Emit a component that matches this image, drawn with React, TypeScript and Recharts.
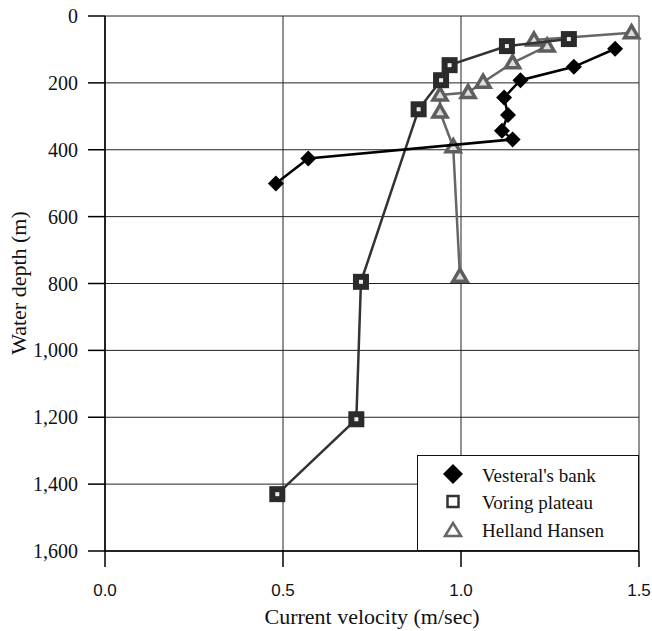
import React from 'react';
import { ScatterChart, Scatter, XAxis, YAxis, CartesianGrid, Legend } from 'recharts';

// velocity (m/sec) and depth (m), ordered by depth
const vesteralVelocity = [1.433, 1.317, 1.167, 1.121, 1.132, 1.115, 1.145, 0.571, 0.48];
const vesteralDepth = [98, 152, 192, 244, 296, 343, 369, 426, 501];

const voringVelocity = [1.303, 1.129, 0.968, 0.944, 0.881, 0.719, 0.706, 0.484];
const voringDepth = [69, 90, 147, 192, 279, 795, 1206, 1430];

const hellandVelocity = [1.479, 1.205, 1.242, 1.145, 1.062, 1.02, 0.941, 0.941, 0.978, 0.997];
const hellandDepth = [50, 72, 90, 140, 198, 229, 236, 287, 391, 778];

const velocityTicks = [0, 0.5, 1, 1.5];
const depthTicks = [0, 200, 400, 600, 800, 1000, 1200, 1400, 1600];

const seriesNames = ["Vesteral's bank", 'Voring plateau', 'Helland Hansen'];

const SERIF = '"Liberation Serif", "Times New Roman", serif';
const SANS = '"Liberation Sans", Arial, sans-serif';

const toPoints = (v: number[], d: number[]) => v.map((x, i) => ({ v: x, d: d[i] }));

const vesteralData = toPoints(vesteralVelocity, vesteralDepth);
const voringData = toPoints(voringVelocity, voringDepth);
const hellandData = toPoints(hellandVelocity, hellandDepth);

const Diamond = ({ cx, cy, r = 8 }: any) => (
  <path d={`M${cx},${cy - r}L${cx + r},${cy}L${cx},${cy + r}L${cx - r},${cy}Z`} fill="#000" />
);

// dark square with only a small light centre, as in the source figure
const Square = ({ cx, cy }: any) => (
  <rect x={cx - 5} y={cy - 5} width={10} height={10} fill="#eee" stroke="#2b2b2b" strokeWidth={6} />
);

const Triangle = ({ cx, cy }: any) => (
  <polygon
    points={`${cx},${cy - 7} ${cx + 7},${cy + 5} ${cx - 7},${cy + 5}`}
    fill="#ddd"
    stroke="#5e5e5e"
    strokeWidth={3.5}
  />
);

const XTick = ({ x, y, payload }: any) => (
  <text x={x} y={y + 21} textAnchor="middle" dominantBaseline="central" fontFamily={SANS} fontSize={17} fill="#111">
    {Number(payload.value).toFixed(1)}
  </text>
);

const YTick = ({ x, y, payload }: any) => (
  <text x={x - 8} y={y} textAnchor="end" dominantBaseline="central" fontFamily={SERIF} fontSize={20} fill="#111">
    {Number(payload.value).toLocaleString('en-US')}
  </text>
);

const renderLegend = () => (
  <div style={{ width: 222, height: 96, background: '#fff', border: '1px solid #111', boxSizing: 'border-box' }}>
    <svg width={220} height={94}>
      <path d="M35,8L45,18L35,28L25,18Z" fill="#000" />
      <rect x={29.5} y={40} width={11} height={11} fill="#fff" stroke="#333" strokeWidth={2.5} />
      <polygon points="35,67 43,80 27,80" fill="#fff" stroke="#666" strokeWidth={2.5} />
      {seriesNames.map((name, i) => (
        <text key={name} x={64} y={[26, 52.5, 80.5][i]} fontFamily={SERIF} fontSize={19} fill="#111">
          {name}
        </text>
      ))}
    </svg>
  </div>
);

export default function App() {
  return (
    <div style={{ position: 'absolute', left: 0, top: 0, background: '#fff' }}>
      <ScatterChart width={652} height={631} margin={{ top: 16, right: 13, left: 0, bottom: 0 }}>
        <CartesianGrid stroke="#222" strokeWidth={1} />
        <XAxis
          type="number"
          dataKey="v"
          domain={[0, 1.5]}
          ticks={velocityTicks}
          height={80}
          tickSize={16}
          axisLine={{ stroke: '#000', strokeWidth: 1.5 }}
          tickLine={{ stroke: '#000', strokeWidth: 1.5 }}
          tick={<XTick />}
          label={{
            content: ({ viewBox }: any) => (
              <text
                x={viewBox ? viewBox.x + viewBox.width / 2 : 372}
                y={624}
                textAnchor="middle"
                fontFamily={SERIF}
                fontSize={22}
                fill="#111"
              >
                Current velocity (m/sec)
              </text>
            ),
          }}
        />
        <YAxis
          type="number"
          dataKey="d"
          domain={[0, 1600]}
          ticks={depthTicks}
          reversed
          width={105}
          tickSize={17}
          axisLine={{ stroke: '#000', strokeWidth: 1.5 }}
          tickLine={{ stroke: '#000', strokeWidth: 1.5 }}
          tick={<YTick />}
          label={{
            content: () => (
              <text
                x={18}
                y={283}
                transform="rotate(-90 18 283)"
                textAnchor="middle"
                dominantBaseline="central"
                fontFamily={SERIF}
                fontSize={22}
                fill="#111"
              >
                Water depth (m)
              </text>
            ),
          }}
        />
        <Legend
          layout="vertical"
          align="center"
          verticalAlign="middle"
          content={renderLegend}
          wrapperStyle={{ left: 417, top: 455, width: 222, height: 96 }}
        />
        <Scatter
          name="Helland Hansen"
          data={hellandData}
          line={{ stroke: '#666', strokeWidth: 2.5 }}
          lineType="joint"
          shape={<Triangle />}
          isAnimationActive={false}
        />
        <Scatter
          name="Voring plateau"
          data={voringData}
          line={{ stroke: '#333', strokeWidth: 2.5 }}
          lineType="joint"
          shape={<Square />}
          isAnimationActive={false}
        />
        <Scatter
          name="Vesteral's bank"
          data={vesteralData}
          line={{ stroke: '#000', strokeWidth: 2.5 }}
          lineType="joint"
          shape={<Diamond />}
          isAnimationActive={false}
        />
      </ScatterChart>
    </div>
  );
}
